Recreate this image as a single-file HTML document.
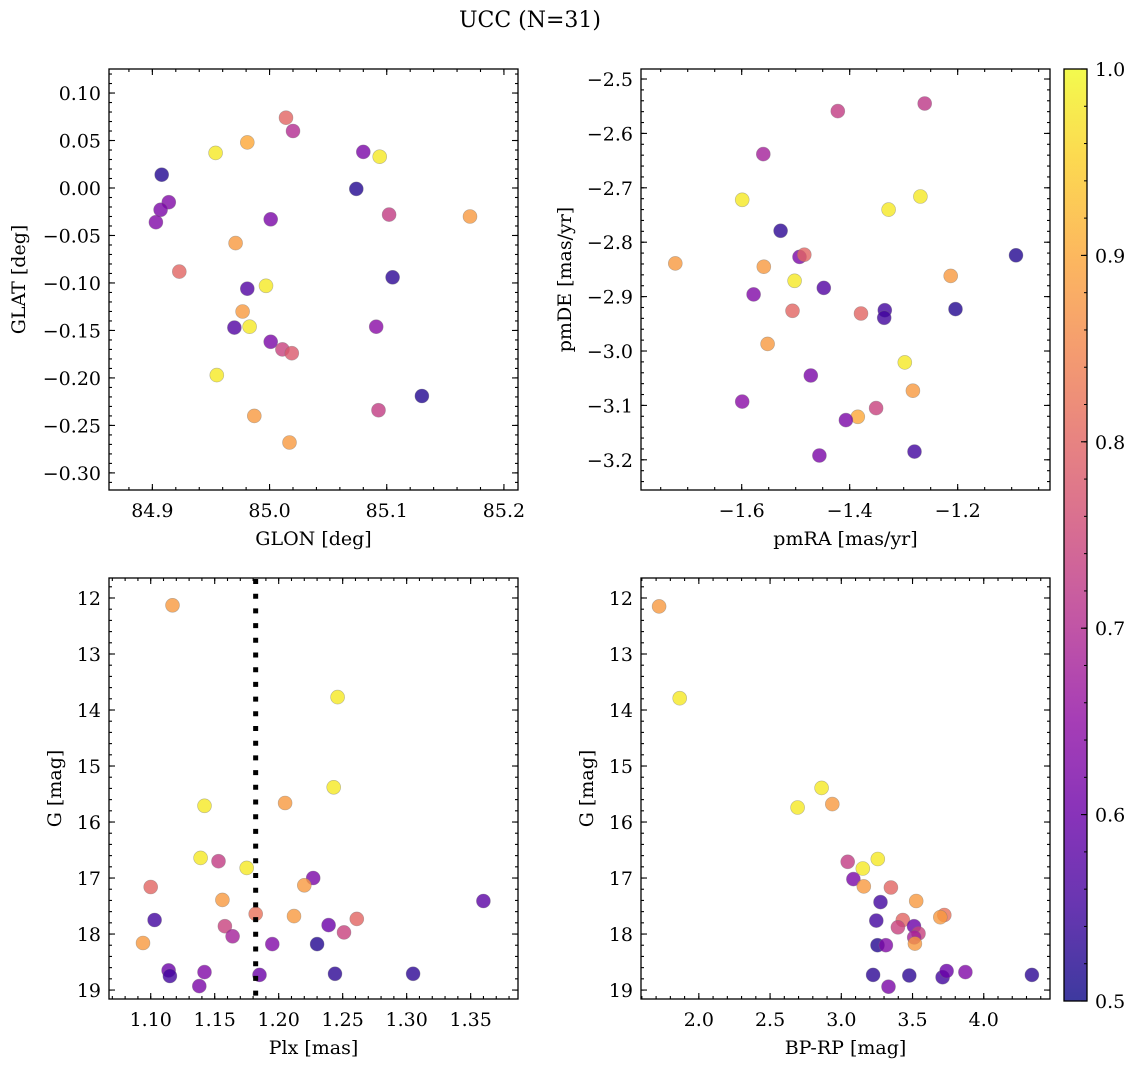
<!DOCTYPE html>
<html><head><meta charset="utf-8">
<style>
html,body{margin:0;padding:0;background:#fff;}
svg{display:block;font-family:"DejaVu Serif","Liberation Serif",serif;}
</style></head>
<body>
<svg id="fig" width="1136" height="1068" viewBox="0 0 1136 1068" xmlns="http://www.w3.org/2000/svg">
<text x="530" y="27" font-size="22" text-anchor="middle">UCC (N=31)</text>
</svg>
<script>
// ---- Panel 1: GLON vs GLAT ----
const p1Glon=[85.014,85.020,84.981,84.954,85.080,85.094,84.908,85.074,84.914,84.907,84.903,85.001,85.102,85.171,84.971,84.923,85.105,84.981,84.997,84.977,84.970,84.983,85.091,85.001,85.011,85.019,84.955,85.130,85.093,84.987,85.017];
const p1Glat=[0.074,0.060,0.048,0.037,0.038,0.033,0.014,-0.001,-0.015,-0.023,-0.036,-0.033,-0.028,-0.030,-0.058,-0.088,-0.094,-0.106,-0.103,-0.130,-0.147,-0.146,-0.146,-0.162,-0.170,-0.174,-0.197,-0.219,-0.234,-0.240,-0.268];
const p1Col=[0.80,0.70,0.90,0.98,0.62,0.98,0.52,0.52,0.63,0.62,0.63,0.62,0.73,0.88,0.88,0.80,0.53,0.57,0.98,0.88,0.57,0.98,0.64,0.62,0.74,0.78,0.98,0.52,0.73,0.88,0.88];
const p1XTicks=[84.9,85.0,85.1,85.2];
const p1YTicks=[0.10,0.05,0.00,-0.05,-0.10,-0.15,-0.20,-0.25,-0.30];
// ---- Panel 2: pmRA vs pmDE ----
const p2PmRA=[-1.422,-1.261,-1.560,-1.599,-1.269,-1.328,-1.528,-1.493,-1.484,-1.723,-1.559,-1.092,-1.502,-1.578,-1.448,-1.213,-1.506,-1.379,-1.335,-1.336,-1.204,-1.552,-1.298,-1.472,-1.283,-1.599,-1.351,-1.385,-1.407,-1.280,-1.456];
const p2PmDE=[-2.559,-2.545,-2.638,-2.722,-2.716,-2.740,-2.779,-2.827,-2.823,-2.839,-2.845,-2.824,-2.871,-2.896,-2.884,-2.862,-2.926,-2.931,-2.925,-2.939,-2.923,-2.987,-3.021,-3.045,-3.073,-3.093,-3.105,-3.121,-3.127,-3.185,-3.192];
const p2Col=[0.73,0.72,0.68,0.98,0.98,0.98,0.53,0.62,0.80,0.88,0.88,0.52,0.98,0.63,0.57,0.88,0.80,0.80,0.55,0.55,0.52,0.88,0.98,0.62,0.88,0.64,0.74,0.90,0.62,0.55,0.62];
const p2XTicks=[-1.6,-1.4,-1.2];
const p2YTicks=[-2.5,-2.6,-2.7,-2.8,-2.9,-3.0,-3.1,-3.2];
// ---- Panel 3: Plx vs G ----
const p3Plx=[1.117,1.246,1.243,1.205,1.142,1.139,1.153,1.175,1.227,1.220,1.100,1.156,1.360,1.103,1.182,1.212,1.261,1.158,1.239,1.251,1.164,1.094,1.195,1.230,1.114,1.115,1.142,1.185,1.244,1.305,1.138];
const p3G=[12.13,13.77,15.38,15.66,15.71,16.64,16.70,16.82,17.00,17.13,17.16,17.39,17.41,17.75,17.64,17.68,17.73,17.86,17.84,17.97,18.04,18.16,18.18,18.18,18.65,18.75,18.68,18.73,18.71,18.71,18.93];
const p3Col=[0.88,0.98,0.98,0.88,0.98,0.98,0.73,0.98,0.62,0.88,0.80,0.88,0.58,0.55,0.82,0.88,0.80,0.74,0.60,0.74,0.68,0.88,0.63,0.52,0.60,0.55,0.63,0.60,0.53,0.53,0.62];
const p3XTicks=[1.10,1.15,1.20,1.25,1.30,1.35];
const p3YTicks=[12,13,14,15,16,17,18,19];
const p3PlxLine=[1.182];
// ---- Panel 4: BP-RP vs G ----
const p4BpRp=[1.721,1.866,2.862,2.693,2.937,3.045,3.151,3.256,3.085,3.158,3.348,3.275,3.526,3.246,3.432,3.397,3.510,3.723,3.695,3.542,3.512,3.517,3.254,3.313,3.223,3.477,3.711,3.739,3.871,3.331,4.338];
const p4G=[12.15,13.79,15.39,15.74,15.68,16.71,16.83,16.66,17.02,17.15,17.17,17.43,17.41,17.76,17.75,17.88,17.86,17.66,17.70,17.99,18.06,18.17,18.20,18.20,18.73,18.74,18.77,18.66,18.68,18.94,18.73];
const p4Col=[0.88,0.98,0.98,0.98,0.88,0.73,0.98,0.98,0.62,0.88,0.80,0.55,0.88,0.55,0.80,0.74,0.60,0.82,0.88,0.74,0.68,0.88,0.52,0.63,0.53,0.53,0.55,0.60,0.63,0.62,0.53];
const p4XTicks=[2.0,2.5,3.0,3.5,4.0];
const p4YTicks=[12,13,14,15,16,17,18,19];
// ---- Colorbar ----
const cbTicks=[0.5,0.6,0.7,0.8,0.9,1.0];

const NS="http://www.w3.org/2000/svg";
const svg=document.getElementById('fig');
const FS=19;
const PL=[[0,13,8,135],[0.1,65,4,157],[0.2,106,0,168],[0.3,143,13,164],[0.4,177,42,144],[0.5,204,71,120],[0.6,225,100,98],[0.7,242,132,75],[0.8,252,166,54],[0.9,252,206,37],[1.0,240,249,33]];
function plasma(t){t=Math.max(0,Math.min(1,t));for(let i=0;i<PL.length-1;i++){const a=PL[i],b=PL[i+1];if(t<=b[0]){const f=(t-a[0])/(b[0]-a[0]);return 'rgb('+[1,2,3].map(k=>Math.round(a[k]+f*(b[k]-a[k]))).join(',')+')';}}return 'rgb(240,249,33)';}
function cmap(c){return plasma((c-0.5)/0.5);}
function mk(tag,attrs,parent){const e=document.createElementNS(NS,tag);for(const k in attrs)e.setAttribute(k,attrs[k]);(parent||svg).appendChild(e);return e;}
function fmt(v,d){const s=Math.abs(v).toFixed(d);return (v<-1e-9?'\u2212':'')+s;}

function panel(name,box,xr,yr,xs,ys,col,xt,yt,xd,yd,xMinStep,yMinStep,xlab,ylab,ylabX){
  const [L,T,R,B]=box;
  const X=v=>L+(v-xr[0])/(xr[1]-xr[0])*(R-L);
  const Y=v=>T+(v-yr[0])/(yr[1]-yr[0])*(B-T);
  const g=mk('g',{});
  
  
  for(let i=0;i<xs.length;i++){
    const c=mk('circle',{cx:X(xs[i]).toFixed(1),cy:Y(ys[i]).toFixed(1),r:7,fill:cmap(col[i]),'fill-opacity':0.8,stroke:'#777','stroke-opacity':0.5,'stroke-width':0.6},g);
    
    
  }
  const ticks=mk('g',{stroke:'#000','stroke-width':1.1},g);
  
  
  const xlo=Math.min(xr[0],xr[1]),xhi=Math.max(xr[0],xr[1]);
  for(let v=Math.ceil(xlo/xMinStep)*xMinStep;v<=xhi;v+=xMinStep){const x=X(v);mk('line',{x1:x,x2:x,y1:B,y2:B-3},ticks);mk('line',{x1:x,x2:x,y1:T,y2:T+3},ticks);}
  const ylo=Math.min(yr[0],yr[1]),yhi=Math.max(yr[0],yr[1]);
  for(let v=Math.ceil(ylo/yMinStep)*yMinStep;v<=yhi;v+=yMinStep){const y=Y(v);mk('line',{x1:L,x2:L+3,y1:y,y2:y},ticks);mk('line',{x1:R,x2:R-3,y1:y,y2:y},ticks);}
  xt.forEach(v=>{const x=X(v);mk('line',{x1:x,x2:x,y1:B,y2:B-6},ticks);mk('line',{x1:x,x2:x,y1:T,y2:T+6},ticks);
    const t=mk('text',{x:x,y:B+27,'font-size':FS,'text-anchor':'middle'},g);t.textContent=fmt(v,xd);
    
    });
  yt.forEach(v=>{const y=Y(v);mk('line',{x1:L,x2:L+6,y1:y,y2:y},ticks);mk('line',{x1:R,x2:R-6,y1:y,y2:y},ticks);
    const t=mk('text',{x:L-8,y:y+7,'font-size':FS,'text-anchor':'end'},g);t.textContent=fmt(v,yd);
    
    });
  const fr=mk('rect',{x:L,y:T,width:R-L,height:B-T,fill:'none',stroke:'#000','stroke-width':1.3},g);
  
  
  const xl=mk('text',{x:(L+R)/2,y:B+55,'font-size':FS,'text-anchor':'middle'},g);xl.textContent=xlab;
  
  
  const yl=mk('text',{x:0,y:0,'font-size':FS,'text-anchor':'middle',transform:'translate('+ylabX+','+((T+B)/2)+') rotate(-90)'},g);yl.textContent=ylab;
  
  
  return {X,Y,g};
}

panel('glon-glat',[109,69,518,490],[84.863,85.212],[0.1253,-0.318],p1Glon,p1Glat,p1Col,p1XTicks,p1YTicks,1,2,0.02,0.01,'GLON [deg]','GLAT [deg]',25);
panel('pm',[641,69,1050,490],[-1.7865,-1.029],[-2.4816,-3.2555],p2PmRA,p2PmDE,p2Col,p2XTicks,p2YTicks,1,1,0.05,0.02,'pmRA [mas/yr]','pmDE [mas/yr]',571);
const p3=panel('plx-g',[109,578,518,999],[1.0674,1.387],[11.643,19.16],p3Plx,p3G,p3Col,p3XTicks,p3YTicks,2,0,0.01,0.2,'Plx [mas]','G [mag]',61);
p3PlxLine.forEach(v=>{
  const ln=mk('line',{x1:p3.X(v),x2:p3.X(v),y1:579,y2:999,stroke:'#000','stroke-width':5,'stroke-dasharray':'5 9.7'});
  
  
});
panel('cmd',[641,578,1050,999],[1.594,4.465],[11.643,19.16],p4BpRp,p4G,p4Col,p4XTicks,p4YTicks,1,0,0.1,0.2,'BP-RP [mag]','G [mag]',593);

(function(){
  const L=1064,R=1087,T=69,B=1001;
  const defs=mk('defs',{});
  const gr=mk('linearGradient',{id:'cbg',x1:0,y1:1,x2:0,y2:0},defs);
  for(let i=0;i<=20;i++){mk('stop',{offset:(i/20),'stop-color':plasma(i/20)},gr);}
  const r=mk('rect',{x:L,y:T,width:R-L,height:B-T,fill:'url(#cbg)','fill-opacity':0.8});
  
  
  const Y=v=>B-(v-0.5)/0.5*(B-T);
  for(let v=0.5;v<=1.0001;v+=0.02){mk('line',{x1:R,x2:R-3,y1:Y(v),y2:Y(v),stroke:'#000','stroke-width':1});}
  cbTicks.forEach(v=>{mk('line',{x1:R,x2:R-6,y1:Y(v),y2:Y(v),stroke:'#000','stroke-width':1.1});
    const t=mk('text',{x:R+8,y:Y(v)+7,'font-size':FS});t.textContent=v.toFixed(1);
    
    });
  mk('rect',{x:L,y:T,width:R-L,height:B-T,fill:'none',stroke:'#000','stroke-width':1.3});
})();
</script>
</body></html>
